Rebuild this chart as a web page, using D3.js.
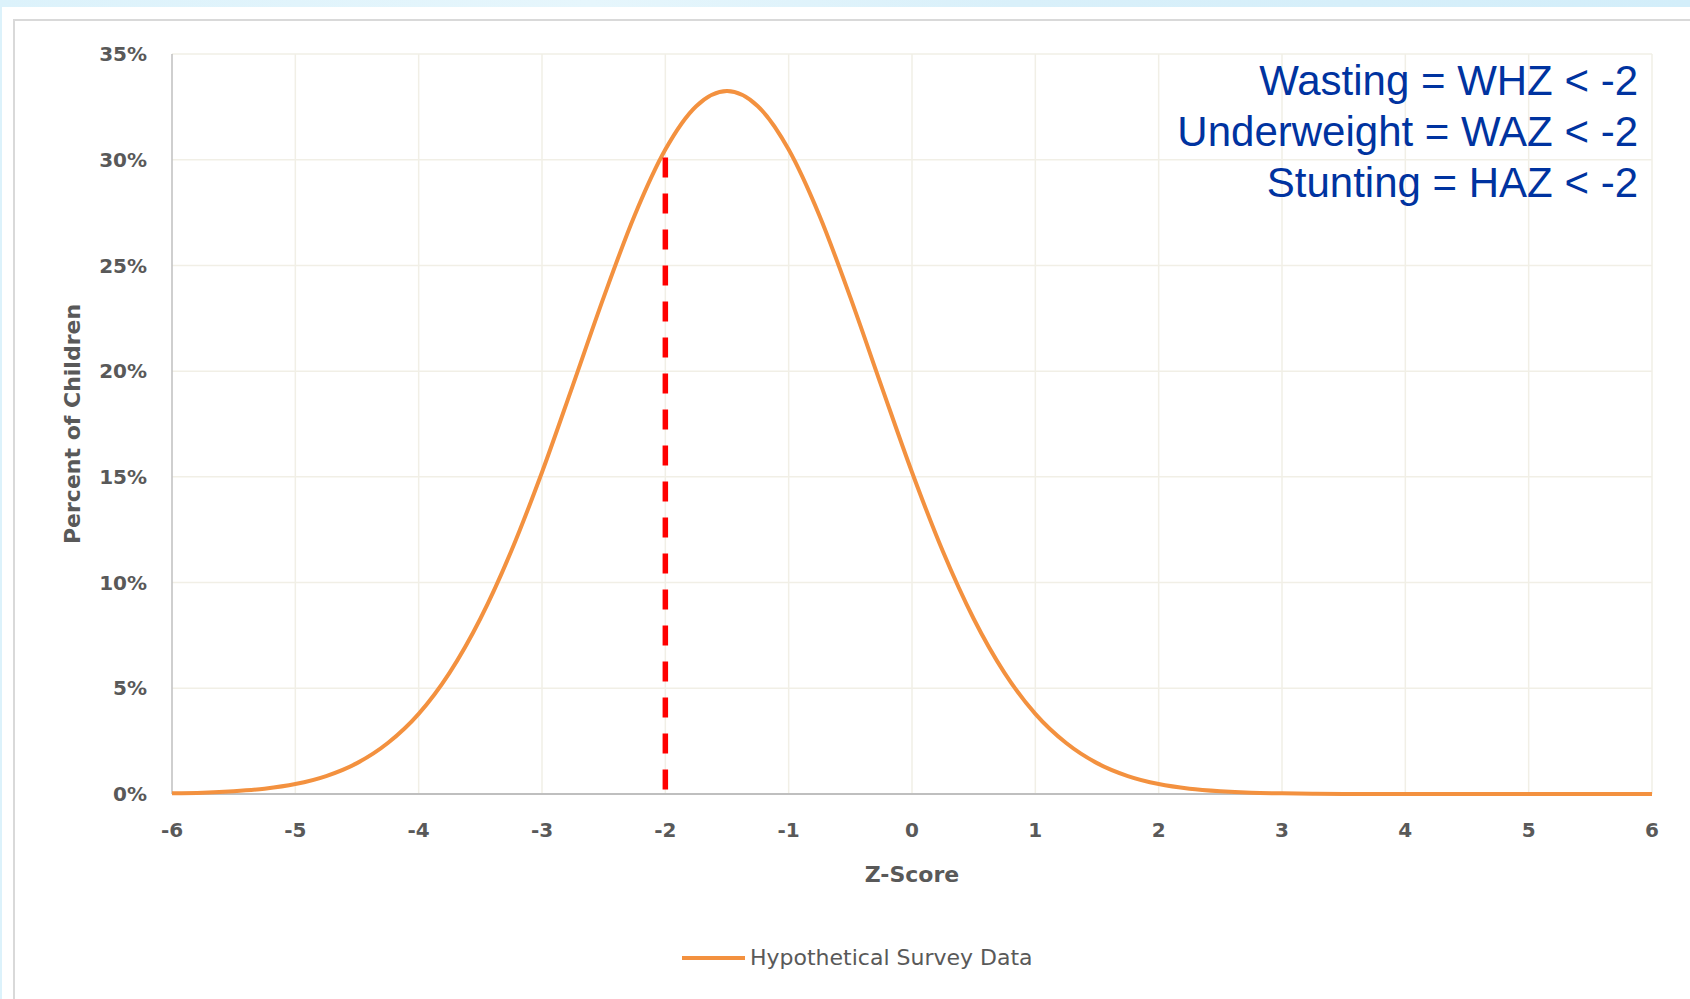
<!DOCTYPE html>
<html>
<head>
<meta charset="utf-8">
<script src="https://cdn.jsdelivr.net/npm/d3@7"></script>
<style>
  body { margin: 0; background: #fff; }
  svg { display: block; }
</style>
</head>
<body>
<div id="chart"></div>
<script>
// z-score positions and percent of children
const zScores = [-6, -5.75, -5.5, -5.25, -5, -4.75, -4.5, -4.25, -4, -3.75, -3.5, -3.25,
  -3, -2.75, -2.5, -2.25, -2, -1.75, -1.5, -1.25, -1, -0.75, -0.5, -0.25,
  0, 0.25, 0.5, 0.75, 1, 1.25, 1.5, 1.75, 2, 2.25, 2.5, 2.75, 3, 3.25, 3.5,
  4, 4.5, 5, 5.5, 6]
const percents = [0.03, 0.06, 0.13, 0.25, 0.47, 0.85, 1.46, 2.41, 3.79, 5.73, 8.29, 11.48,
  15.22, 19.33, 23.49, 27.35, 30.48, 32.53, 33.25, 32.53, 30.48, 27.35, 23.49, 19.33,
  15.22, 11.48, 8.29, 5.73, 3.79, 2.41, 1.46, 0.85, 0.47, 0.25, 0.13, 0.06, 0.03, 0.01, 0,
  0, 0, 0, 0, 0]
const xTicks = [-6, -5, -4, -3, -2, -1, 0, 1, 2, 3, 4, 5, 6]
const yTicks = [0, 5, 10, 15, 20, 25, 30, 35]
const cutoff = { z: -2, top: 30.1 }
const notes = ['Wasting = WHZ < -2', 'Underweight = WAZ < -2', 'Stunting = HAZ < -2']
const seriesName = 'Hypothetical Survey Data'

const width = 1690
const height = 999
const orange = '#f3913f'
const labelColor = '#595959'
const gridColor = '#f1efe6'

const svg = d3.select('#chart').append('svg')
  .attr('width', width)
  .attr('height', height)

// slide backdrop
const defs = svg.append('defs')
const grad = defs.append('linearGradient').attr('id', 'strip')
grad.append('stop').attr('offset', '0%').attr('stop-color', '#dcf2fb')
grad.append('stop').attr('offset', '35%').attr('stop-color', '#e6f6fc')
grad.append('stop').attr('offset', '60%').attr('stop-color', '#d9f0fa')
grad.append('stop').attr('offset', '100%').attr('stop-color', '#d3eefa')
svg.append('rect').attr('width', width).attr('height', 7).attr('fill', 'url(#strip)')
svg.append('rect').attr('width', 2).attr('height', height).attr('fill', '#dcf2fb')
svg.append('rect')
  .attr('x', 14).attr('y', 20)
  .attr('width', width).attr('height', height)
  .attr('fill', '#fff')
  .attr('stroke', '#d9d9d9')
  .attr('stroke-width', 2)

const x = d3.scaleLinear().domain([-6, 6]).range([172, 1652])
const y = d3.scaleLinear().domain([0, 35]).range([794, 54])

// gridlines
svg.append('g').selectAll('line')
  .data(xTicks.slice(1))
  .join('line')
    .attr('x1', d => x(d)).attr('x2', d => x(d))
    .attr('y1', y(35)).attr('y2', y(0))
    .attr('stroke', gridColor).attr('stroke-width', 1.5)
svg.append('g').selectAll('line')
  .data(yTicks.slice(1))
  .join('line')
    .attr('x1', x(-6)).attr('x2', x(6))
    .attr('y1', d => y(d)).attr('y2', d => y(d))
    .attr('stroke', gridColor).attr('stroke-width', 1.5)

// axis lines
svg.append('line')
  .attr('x1', x(-6)).attr('x2', x(-6))
  .attr('y1', y(35)).attr('y2', y(0))
  .attr('stroke', '#bfbfbf').attr('stroke-width', 1.5)
svg.append('line')
  .attr('x1', x(-6)).attr('x2', x(6))
  .attr('y1', y(0)).attr('y2', y(0))
  .attr('stroke', '#bfbfbf').attr('stroke-width', 2)

// tick labels
svg.append('g').selectAll('text')
  .data(yTicks)
  .join('text')
    .attr('x', 147)
    .attr('y', d => y(d))
    .attr('dy', '0.36em')
    .attr('text-anchor', 'end')
    .style('font', 'bold 20px "DejaVu Sans"')
    .style('fill', labelColor)
    .text(d => d + '%')
svg.append('g').selectAll('text')
  .data(xTicks)
  .join('text')
    .attr('x', d => x(d))
    .attr('y', 837)
    .attr('text-anchor', 'middle')
    .style('font', 'bold 20px "DejaVu Sans"')
    .style('fill', labelColor)
    .text(d => d)

// axis titles
svg.append('text')
  .attr('x', x(0)).attr('y', 882)
  .attr('text-anchor', 'middle')
  .style('font', 'bold 22px "DejaVu Sans"')
  .style('fill', labelColor)
  .text('Z-Score')
svg.append('text')
  .attr('transform', `translate(80,${y(17.5)}) rotate(-90)`)
  .attr('text-anchor', 'middle')
  .style('font', 'bold 22px "DejaVu Sans"')
  .style('fill', labelColor)
  .text('Percent of Children')

// curve
const line = d3.line()
  .x((d, i) => x(zScores[i]))
  .y(d => y(d))
  .curve(d3.curveMonotoneX)
svg.append('path')
  .datum(percents)
  .attr('d', line)
  .attr('fill', 'none')
  .attr('stroke', orange)
  .attr('stroke-width', 4)
  .attr('stroke-linejoin', 'round')

// cutoff at -2
svg.append('line')
  .attr('x1', x(cutoff.z)).attr('x2', x(cutoff.z))
  .attr('y1', y(cutoff.top)).attr('y2', y(0))
  .attr('stroke', '#ff0000')
  .attr('stroke-width', 5.5)
  .attr('stroke-dasharray', '20 16')

// annotation
svg.append('g').selectAll('text')
  .data(notes)
  .join('text')
    .attr('x', 1638)
    .attr('y', (d, i) => 95 + i * 51)
    .attr('text-anchor', 'end')
    .style('font', '42px "Liberation Sans", Arial, sans-serif')
    .style('fill', '#0033a0')
    .text(d => d)

// legend
const legend = svg.append('g').attr('transform', 'translate(682,958)')
legend.append('line')
  .attr('x1', 0).attr('x2', 63)
  .attr('stroke', orange).attr('stroke-width', 4)
legend.append('text')
  .attr('x', 68).attr('y', 7)
  .style('font', '22px "DejaVu Sans"')
  .style('fill', labelColor)
  .text(seriesName)
</script>
</body>
</html>
